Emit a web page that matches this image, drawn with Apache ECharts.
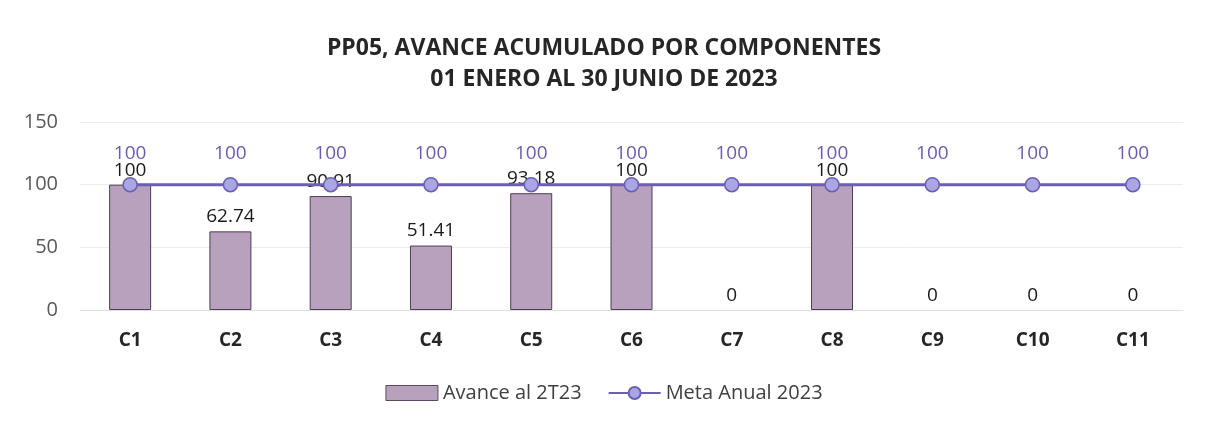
<!DOCTYPE html>
<html>
<head>
<meta charset="utf-8">
<script src="https://cdn.jsdelivr.net/npm/echarts@6/dist/echarts.min.js"></script>
<style>
  html, body { margin: 0; padding: 0; background: #fff; }
  #chart { width: 1208px; height: 426px; }
</style>
</head>
<body>
<div id="chart"></div>
<script>
  const categories = ['C1', 'C2', 'C3', 'C4', 'C5', 'C6', 'C7', 'C8', 'C9', 'C10', 'C11'];
  const avance = [100, 62.74, 90.91, 51.41, 93.18, 100, 0, 100, 0, 0, 0];
  const meta = [100, 100, 100, 100, 100, 100, 100, 100, 100, 100, 100];
  const yTicks = [0, 50, 100, 150];

  const font = '"Open Sans", "Noto Sans", sans-serif';

  // zero-height bars: no border line on the axis
  const barData = avance.map(v => v === 0 ? { value: v, itemStyle: { borderWidth: 0 } } : v);

  let chart = echarts.init(document.getElementById('chart'));
  chart.setOption({
    backgroundColor: '#ffffff',
    animation: false,
    title: {
      text: 'PP05, AVANCE ACUMULADO POR COMPONENTES\n01 ENERO AL 30 JUNIO DE 2023',
      left: 'center',
      top: 28,
      textStyle: {
        fontFamily: font,
        fontSize: 23,
        fontWeight: 'bold',
        color: '#262626',
        lineHeight: 31
      }
    },
    grid: {
      left: 80,
      right: 25,
      top: 122,
      bottom: 116,
      outerBoundsMode: 'none'
    },
    legend: {
      bottom: 18,
      left: 'center',
      itemGap: 26,
      textStyle: { fontFamily: font, fontSize: 20, color: '#404040' },
      data: [
        { name: 'Avance al 2T23', icon: 'rect', itemStyle: { borderColor: '#5a4a60', borderWidth: 1 } },
        { name: 'Meta Anual 2023' }
      ],
      itemWidth: 52,
      itemHeight: 15
    },
    xAxis: {
      type: 'category',
      data: categories,
      axisLine: { show: true, lineStyle: { color: '#e0e0e0' } },
      axisTick: { show: false },
      axisLabel: {
        fontFamily: font,
        fontSize: 19,
        fontWeight: 'bold',
        color: '#262626',
        margin: 21
      }
    },
    yAxis: {
      type: 'value',
      min: yTicks[0],
      max: yTicks[yTicks.length - 1],
      interval: 50,
      axisLine: { show: false },
      axisTick: { show: false },
      axisLabel: {
        fontFamily: font,
        fontSize: 20,
        color: '#595959',
        margin: 22
      },
      splitLine: { lineStyle: { color: '#ececec' } }
    },
    series: [
      {
        name: 'Avance al 2T23',
        type: 'bar',
        data: barData,
        barWidth: 42,
        itemStyle: {
          color: '#b8a1bd',
          borderColor: '#4d3d55',
          borderWidth: 1
        },
        label: {
          show: true,
          position: 'top',
          distance: 5,
          fontFamily: font,
          fontSize: 19,
          color: '#1a1a1a'
        },
        z: 2
      },
      {
        name: 'Meta Anual 2023',
        type: 'line',
        data: meta,
        symbol: 'circle',
        symbolSize: 14,
        lineStyle: { color: '#6a5fb3', width: 3 },
        itemStyle: { color: '#aaa5e3', borderColor: '#6a5fb3', borderWidth: 1.5 },
        label: {
          show: true,
          position: 'top',
          distance: 14,
          fontFamily: font,
          fontSize: 19,
          color: '#6a5cb0'
        },
        z: 3
      }
    ]
  });
</script>
</body>
</html>
